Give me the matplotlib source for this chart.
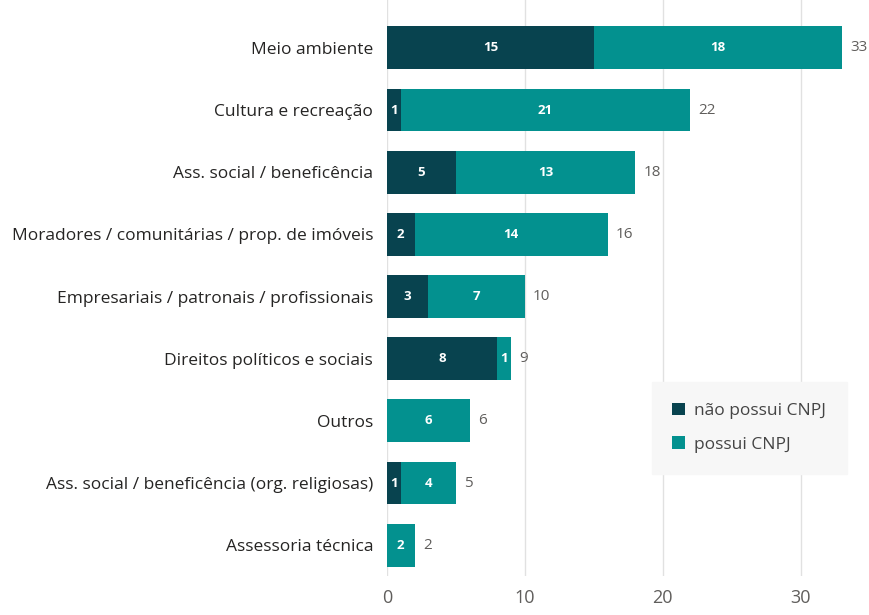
'''stacked bar chart: organizations with / without CNPJ by category'''
import matplotlib.pyplot as plt
import numpy as np

categories = [
    "Meio ambiente",
    "Cultura e recreação",
    "Ass. social / beneficência",
    "Moradores / comunitárias / prop. de imóveis",
    "Empresariais / patronais / profissionais",
    "Direitos políticos e sociais",
    "Outros",
    "Ass. social / beneficência (org. religiosas)",
    "Assessoria técnica",
]
sem_cnpj = [15, 1, 5, 2, 3, 8, 0, 1, 0]
com_cnpj = [18, 21, 13, 14, 7, 1, 6, 4, 2]
series_names = ["não possui CNPJ", "possui CNPJ"]

DARK = "#08434f"
TEAL = "#03918f"

plt.rcParams['font.family'] = ['Open Sans', 'DejaVu Sans']

fig = plt.figure(figsize=(8.69, 6.15), dpi=100)
ax = fig.add_axes([0.4453, 0.063, 0.5537, 0.937])

y = np.arange(len(categories))
a = np.array(sem_cnpj)
b = np.array(com_cnpj)
h = 0.69
ax.barh(y, a, height=h, color=DARK, label=series_names[0], zorder=2)
ax.barh(y, b, left=a, height=h, color=TEAL, label=series_names[1], zorder=2)

for i in range(len(categories)):
    if a[i] > 0:
        ax.text(a[i] / 2, y[i], str(a[i]), ha='center', va='center',
                color='white', fontsize=9.5, fontweight='bold', zorder=3)
    if b[i] > 0:
        ax.text(a[i] + b[i] / 2, y[i], str(b[i]), ha='center', va='center',
                color='white', fontsize=9.5, fontweight='bold', zorder=3)
    ax.text(a[i] + b[i] + 0.6, y[i], str(a[i] + b[i]), ha='left', va='center',
            color='#605e5c', fontsize=11)

ax.set_yticks(y)
ax.set_yticklabels(categories, fontsize=12.5, color='#252423')
ax.set_ylim(len(categories) - 0.5, -0.77)
ax.set_xlim(0, 34.9)
ax.set_xticks([0, 10, 20, 30])
ax.tick_params(axis='x', labelsize=13, labelcolor='#605e5c', length=0, pad=9)
ax.tick_params(axis='y', length=0, pad=10)
ax.grid(axis='x', color='#e1e1e1', linewidth=1, zorder=0)
for s in ax.spines.values():
    s.set_visible(False)

leg = ax.legend(loc='lower left', bbox_to_anchor=(0.532, 0.163), frameon=True,
                fontsize=12.5, handlelength=0.75, handleheight=0.75,
                borderpad=1.2, labelspacing=1.0, handletextpad=0.5,
                fancybox=False)
leg.get_frame().set_facecolor('#f7f7f7')
leg.get_frame().set_edgecolor('#f7f7f7')
leg.get_frame().set_alpha(1)
for t in leg.get_texts():
    t.set_color('#444444')

fig.savefig("out.png", dpi=100)
